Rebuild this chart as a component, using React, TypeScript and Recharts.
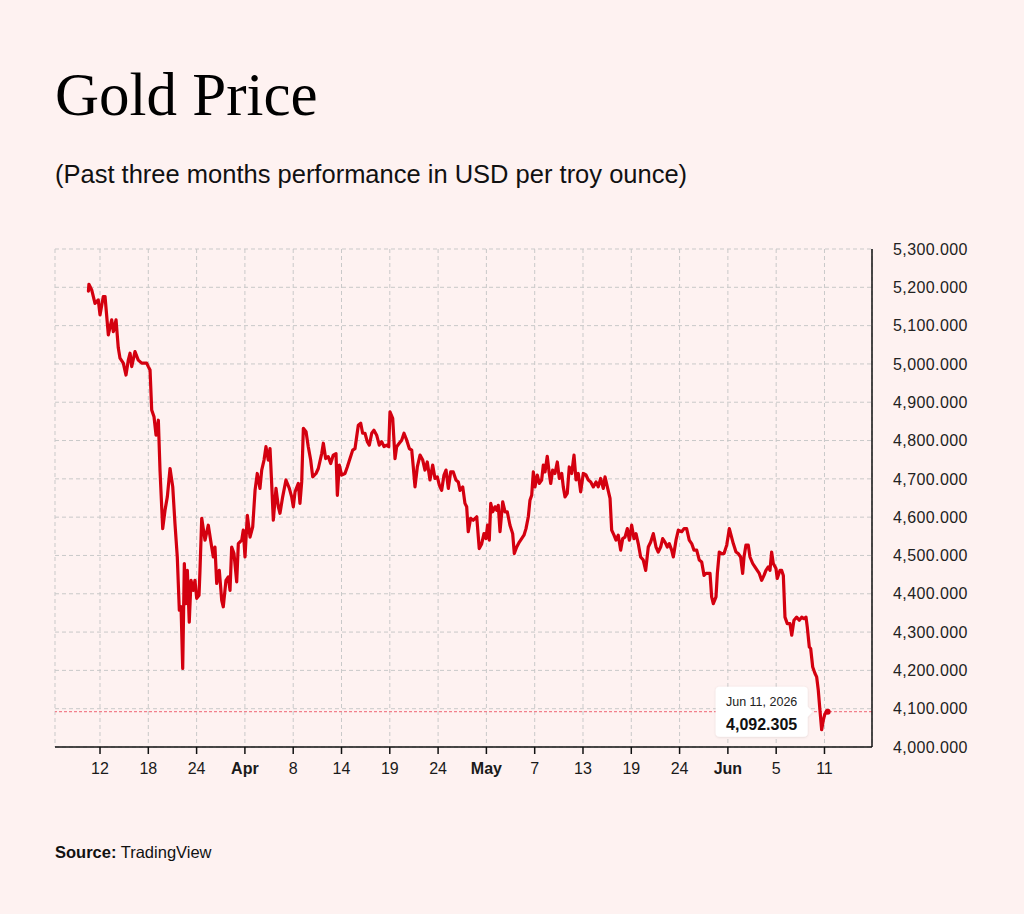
import React from "react";
import {
  LineChart,
  Line,
  XAxis,
  YAxis,
  CartesianGrid,
  ReferenceLine,
  ReferenceDot,
} from "recharts";

// Trading sessions (position along the time axis, 5 sessions between labelled ticks)
const sessions: number[] = [
  -1.2, -1.15, -0.86, -0.52, -0.18, 0, 0.34, 0.52, 0.86, 1.21, 1.38, 1.66, 1.89, 2.07, 2.41, 2.69, 2.93, 3.11, 3.28, 3.62,
  3.96, 4.32, 4.83, 5.0, 5.18, 5.35, 5.59, 5.8, 6.04, 6.21, 6.49, 6.73, 6.97, 7.25, 7.53, 7.76, 8.0, 8.21, 8.39, 8.56,
  8.73, 8.9, 9.04, 9.24, 9.42, 9.66, 9.83, 10.01, 10.25, 10.35, 10.53, 10.87, 11.21, 11.56, 11.73, 11.9, 12.08, 12.35, 12.6, 12.76,
  13.04, 13.28, 13.46, 13.63, 13.87, 14.15, 14.32, 14.67, 14.83, 15.01, 15.25, 15.53, 15.81, 16.05, 16.28, 16.56, 16.74, 16.98, 17.18, 17.42,
  17.6, 17.77, 17.94, 18.22, 18.46, 18.63, 18.91, 19.25, 19.6, 19.84, 20.01, 20.19, 20.53, 20.7, 20.88, 21.05, 21.33, 21.56, 21.81, 22.02,
  22.36, 22.6, 22.95, 23.12, 23.36, 23.63, 23.88, 24.15, 24.43, 24.57, 24.77, 25.02, 25.36, 25.6, 25.88, 26.16, 26.4, 26.57, 26.74, 26.99,
  27.19, 27.43, 27.67, 27.88, 28.13, 28.36, 28.64, 28.91, 29.16, 29.4, 29.68, 29.89, 30.02, 30.3, 30.54, 30.71, 30.98, 31.23, 31.47, 31.75,
  32.02, 32.27, 32.43, 32.61, 32.85, 33.13, 33.41, 33.64, 33.88, 34.16, 34.44, 34.68, 34.92, 35.12, 35.37, 35.61, 35.82, 36.06, 36.3, 36.57,
  36.85, 37.09, 37.27, 37.55, 37.78, 37.96, 38.12, 38.37, 38.64, 39.0, 39.26, 39.51, 39.75, 39.96, 40.12, 40.3, 40.45, 40.65, 40.89, 41.07,
  41.23, 41.41, 41.69, 41.93, 42.16, 42.44, 42.72, 42.89, 43.14, 43.41, 43.65, 43.89, 44.1, 44.34, 44.51, 44.69, 44.86, 45.03, 45.27, 45.48,
  45.72, 45.89, 46.07, 46.3, 46.51, 46.66, 46.86, 47.1, 47.34, 47.55, 47.8, 47.96, 48.14, 48.37, 48.58, 48.83, 49.07, 49.28, 49.51, 49.76,
  50.03, 50.31, 50.55, 50.8, 51.07, 51.35, 51.58, 51.83, 52.1, 52.28, 52.52, 52.8, 52.97, 53.21, 53.42, 53.65, 53.9, 54.11, 54.35, 54.59,
  54.8, 55.04, 55.28, 55.49, 55.72, 55.97, 56.24, 56.49, 56.76, 57.01, 57.28, 57.56, 57.79, 58.04, 58.25, 58.49, 58.73, 58.93, 59.18, 59.35,
  59.63, 59.87, 60.22, 60.46, 60.73, 61.0, 61.25, 61.49, 61.77, 62.04, 62.29, 62.53, 62.73, 62.97, 63.15, 63.32, 63.49, 63.77, 63.91, 64.11,
  64.36, 64.6, 64.88, 65.15, 65.56, 65.84, 66.08, 66.32, 66.53, 66.67, 66.87, 67.11, 67.29, 67.57, 67.8, 68.04, 68.25, 68.5, 68.74, 68.94,
  69.18, 69.36, 69.53, 69.7, 69.98, 70.11, 70.39, 70.57, 70.74, 70.91, 71.15, 71.43, 71.61, 71.84, 72.12, 72.39, 72.64, 72.88, 73.09, 73.22,
  73.43, 73.57, 73.78, 74.02, 74.19, 74.36, 74.53, 74.71, 74.88, 75.05, 75.33,
];

// Gold price, USD per troy ounce
const prices: number[] = [
  5190, 5208, 5193, 5158, 5167, 5128, 5176, 5176, 5076, 5115, 5084, 5115, 5042, 5015, 5002, 4971, 5010, 5028, 4993, 5032,
  5010, 5002, 5002, 4993, 4984, 4880, 4862, 4814, 4853, 4723, 4570, 4618, 4653, 4727, 4679, 4583, 4496, 4357, 4366, 4205,
  4479, 4374, 4461, 4326, 4435, 4409, 4435, 4388, 4396, 4461, 4597, 4540, 4579, 4522, 4496, 4522, 4427, 4461, 4383, 4366,
  4435, 4444, 4409, 4522, 4505, 4431, 4531, 4540, 4566, 4496, 4605, 4548, 4575, 4670, 4714, 4675, 4723, 4749, 4784, 4749,
  4779, 4688, 4592, 4675, 4627, 4610, 4653, 4697, 4675, 4653, 4627, 4666, 4688, 4636, 4692, 4832, 4823, 4784, 4749, 4705,
  4714, 4727, 4766, 4793, 4753, 4758, 4740, 4762, 4766, 4657, 4736, 4710, 4714, 4731, 4753, 4775, 4779, 4810, 4840, 4845,
  4819, 4819, 4797, 4788, 4819, 4827, 4814, 4788, 4797, 4784, 4788, 4784, 4875, 4858, 4753, 4784, 4793, 4801, 4819, 4801,
  4779, 4775, 4731, 4679, 4731, 4762, 4749, 4723, 4744, 4697, 4736, 4701, 4705, 4684, 4670, 4710, 4723, 4675, 4718, 4718,
  4697, 4692, 4670, 4679, 4636, 4627, 4562, 4597, 4592, 4601, 4518, 4530, 4557, 4544, 4579, 4540, 4636, 4614, 4627, 4618,
  4631, 4562, 4640, 4614, 4614, 4579, 4557, 4505, 4522, 4535, 4544, 4553, 4570, 4601, 4644, 4657, 4718, 4679, 4710, 4688,
  4697, 4736, 4718, 4759, 4714, 4688, 4723, 4714, 4744, 4701, 4714, 4679, 4653, 4662, 4731, 4714, 4762, 4697, 4714, 4666,
  4714, 4710, 4697, 4692, 4679, 4692, 4679, 4701, 4675, 4705, 4679, 4649, 4566, 4553, 4540, 4553, 4514, 4544, 4548, 4570,
  4540, 4579, 4544, 4557, 4531, 4496, 4488, 4461, 4522, 4535, 4557, 4522, 4509, 4522, 4544, 4535, 4522, 4531, 4514, 4496,
  4540, 4566, 4562, 4570, 4570, 4540, 4531, 4514, 4514, 4488, 4483, 4448, 4453, 4453, 4453, 4392, 4374, 4392, 4453, 4509,
  4505, 4505, 4527, 4570, 4531, 4509, 4505, 4496, 4453, 4496, 4527, 4527, 4496, 4479, 4470, 4461, 4453, 4435, 4448, 4461,
  4470, 4461, 4509, 4479, 4466, 4440, 4461, 4461, 4448, 4339, 4322, 4322, 4292, 4331, 4339, 4331, 4339, 4335, 4339, 4313,
  4261, 4257, 4209, 4192, 4183, 4148, 4096, 4045, 4070, 4087, 4092.305,
];

const tickSessions: number[] = [0, 5, 10, 15, 20, 25, 30, 35, 40, 45, 50, 55, 60, 65, 70, 75];
const tickLabels: string[] = ["12", "18", "24", "Apr", "8", "14", "19", "24", "May", "7", "13", "19", "24", "Jun", "5", "11"];
const monthLabels: string[] = ["Apr", "May", "Jun"];
const priceTicks: number[] = [4000, 4100, 4200, 4300, 4400, 4500, 4600, 4700, 4800, 4900, 5000, 5100, 5200, 5300];
const lastDateLabel = "Jun 11, 2026";

const data = sessions.map((t, i) => ({ t, v: prices[i] }));
const last = data[data.length - 1];

const RED = "#d4000f";
const SANS = "'Liberation Sans', Arial, Helvetica, sans-serif";
const SERIF = "'Liberation Serif', 'Times New Roman', serif";
const BG = "#fef2f1";

const fmtPrice = (v: number) =>
  v.toLocaleString("en-US", { minimumFractionDigits: 3, maximumFractionDigits: 3 });

const XTick = (props: any) => {
  const { x, y, payload } = props;
  const idx = tickSessions.indexOf(payload.value);
  const label = idx >= 0 ? tickLabels[idx] : "";
  const bold = monthLabels.includes(label);
  return (
    <text
      x={x}
      y={y}
      dy="0.71em"
      textAnchor="middle"
      fontSize={16}
      fontFamily={SANS}
      fontWeight={bold ? 700 : 400}
      fill="#1a1a1a"
    >
      {label}
    </text>
  );
};

const Callout = (props: any) => {
  const { cx, cy } = props;
  if (cx == null || cy == null) return null;
  return (
    <g>
      <defs>
        <filter id="calloutShadow" x="-20%" y="-20%" width="140%" height="140%">
          <feDropShadow dx="0" dy="0.5" stdDeviation="1" floodColor="#000" floodOpacity="0.12" />
        </filter>
      </defs>
      <g filter="url(#calloutShadow)">
        <rect x={cx - 112} y={cy - 25} width={92} height={50} rx={4} fill="#ffffff" />
        <path d={`M${cx - 21},${cy - 6} L${cx - 15},${cy} L${cx - 21},${cy + 6} Z`} fill="#ffffff" />
      </g>
      <text x={cx - 66} y={cy - 6} textAnchor="middle" fontSize={12.5} fontFamily={SANS} fill="#222">
        {lastDateLabel}
      </text>
      <text x={cx - 66} y={cy + 18} textAnchor="middle" fontSize={16} fontWeight={700} fontFamily={SANS} fill="#111">
        {fmtPrice(last.v)}
      </text>
      <circle cx={cx} cy={cy} r={3} fill={RED} />
    </g>
  );
};

export default function App() {
  return (
    <div
      style={{
        position: "absolute",
        left: 0,
        top: 0,
        width: 1024,
        height: 914,
        background: BG,
        overflow: "hidden",
      }}
    >
      <svg width={1024} height={914} style={{ position: "absolute", left: 0, top: 0 }}>
        <text x={55} y={115} fontSize={61} fontFamily={SERIF} fill="#000">
          Gold Price
        </text>
        <text x={55} y={183} fontSize={25.5} fontFamily={SANS} fill="#111">
          (Past three months performance in USD per troy ounce)
        </text>
        <text x={55} y={858} fontSize={16.5} fontFamily={SANS} fill="#111">
          <tspan fontWeight={700}>Source:</tspan>
          <tspan> TradingView</tspan>
        </text>
      </svg>
      <div style={{ position: "absolute", left: 0, top: 0 }}>
        <LineChart
          width={1024}
          height={800}
          data={data}
          margin={{ top: 249, right: 0, bottom: 13, left: 55 }}
        >
          <CartesianGrid stroke="#c9c9c9" strokeDasharray="4 3" strokeWidth={1} />
          <XAxis
            type="number"
            dataKey="t"
            domain={[-4.66, 79.92]}
            allowDataOverflow
            ticks={tickSessions}
            interval={0}
            height={40}
            axisLine={{ stroke: "#111", strokeWidth: 1.5 }}
            tickLine={{ stroke: "#111", strokeWidth: 1.5 }}
            tickSize={7}
            tickMargin={9}
            tick={<XTick />}
          />
          <YAxis
            orientation="right"
            type="number"
            domain={[4000, 5300]}
            allowDataOverflow
            ticks={priceTicks}
            interval={0}
            width={152}
            axisLine={{ stroke: "#111", strokeWidth: 1.5 }}
            tickLine={false}
            tickSize={6}
            tickMargin={15}
            tickFormatter={fmtPrice}
            tick={{ fontSize: 16, fontFamily: SANS, fill: "#222", letterSpacing: 0.4 }}
          />
          <ReferenceLine y={last.v} stroke="#f2808c" strokeDasharray="3 2" strokeWidth={1.2} />
          <Line
            type="linear"
            dataKey="v"
            stroke={RED}
            strokeWidth={3.2}
            strokeLinejoin="round"
            strokeLinecap="round"
            dot={false}
            activeDot={false}
            isAnimationActive={false}
          />
          <ReferenceDot x={last.t} y={last.v} r={3} ifOverflow="visible" shape={<Callout />} />
        </LineChart>
      </div>
    </div>
  );
}
